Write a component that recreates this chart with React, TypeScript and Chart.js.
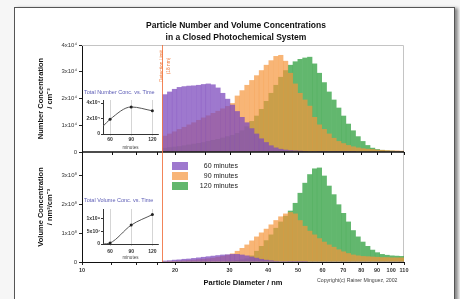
import React, { useEffect, useRef } from 'react';
import { Chart, registerables } from 'chart.js';

Chart.register(...registerables);

const FONT = '"Liberation Sans", Arial, Helvetica, sans-serif';

// Bin centre diameters (nm), log-spaced size channels
const diameters = [
  18.53, 19.21, 19.91, 20.64, 21.4, 22.18, 22.99, 23.84, 24.71, 25.61,
  26.55, 27.53, 28.53, 29.58, 30.66, 31.79, 32.95, 34.16, 35.41, 36.71,
  38.05, 39.45, 40.89, 42.39, 43.94, 45.55, 47.22, 48.95, 50.75, 52.61,
  54.53, 56.53, 58.6, 60.75, 62.98, 65.28, 67.67, 70.15, 72.72, 75.39,
  78.15, 81.01, 83.98, 87.06, 90.25, 93.55, 96.98, 100.53, 104.22, 108.04,
];

// Number concentration, units of 1x10^4 cm^-3
const number60 = [
  2.15, 2.25, 2.35, 2.42, 2.45, 2.47, 2.48, 2.5, 2.53, 2.55,
  2.52, 2.4, 2.2, 1.98, 1.76, 1.52, 1.3, 1.1, 0.88, 0.68,
  0.5, 0.36, 0.24, 0.16, 0.11, 0.08, 0.06, 0.05, 0.04, 0.03,
  0.02, 0.02, 0.01, 0.01, 0.01, 0.01, 0.01, 0.01, 0.01, 0.01,
  0, 0, 0, 0, 0, 0, 0, 0, 0, 0,
];
const number90 = [
  0.6, 0.68, 0.76, 0.85, 0.93, 1.02, 1.1, 1.19, 1.28, 1.36,
  1.45, 1.53, 1.62, 1.71, 1.82, 2.1, 2.3, 2.5, 2.68, 2.86,
  3.05, 3.25, 3.42, 3.58, 3.62, 3.4, 2.95, 2.55, 2.2, 1.95,
  1.72, 1.3, 1.02, 0.85, 0.68, 0.52, 0.4, 0.32, 0.25, 0.2,
  0.16, 0.13, 0.11, 0.1, 0.08, 0.07, 0.06, 0.05, 0.05, 0.04,
];
const number120 = [
  0.15, 0.17, 0.19, 0.21, 0.24, 0.27, 0.3, 0.33, 0.36, 0.4,
  0.44, 0.48, 0.53, 0.58, 0.63, 0.7, 0.8, 0.95, 1.15, 1.35,
  1.6, 1.9, 2.2, 2.5, 2.8, 3.05, 3.25, 3.38, 3.47, 3.52,
  3.55, 3.3, 2.95, 2.6, 2.25, 1.95, 1.65, 1.35, 1.05, 0.8,
  0.58, 0.4, 0.25, 0.15, 0.1, 0.07, 0.05, 0.04, 0.03, 0.03,
];

// Volume concentration, units of 1x10^8 nm^3 cm^-3
const volume60 = [
  0.04, 0.05, 0.07, 0.08, 0.1, 0.11, 0.13, 0.15, 0.17, 0.19,
  0.21, 0.23, 0.25, 0.26, 0.27, 0.27, 0.25, 0.22, 0.18, 0.14,
  0.1, 0.07, 0.05, 0.03, 0.02, 0.015, 0.01, 0.01, 0.01, 0.01,
  0, 0, 0, 0, 0, 0, 0, 0, 0, 0,
  0, 0, 0, 0, 0, 0, 0, 0, 0, 0,
];
const volume90 = [
  0.02, 0.03, 0.03, 0.04, 0.05, 0.06, 0.07, 0.09, 0.1, 0.12,
  0.14, 0.17, 0.2, 0.24, 0.29, 0.38, 0.48, 0.6, 0.74, 0.88,
  1.02, 1.15, 1.3, 1.45, 1.58, 1.68, 1.73, 1.68, 1.45, 1.25,
  1.08, 0.95, 0.82, 0.7, 0.6, 0.52, 0.43, 0.36, 0.3, 0.25,
  0.22, 0.2, 0.19, 0.18, 0.17, 0.16, 0.16, 0.15, 0.15, 0.15,
];
const volume120 = [
  0, 0, 0, 0.01, 0.01, 0.01, 0.01, 0.01, 0.01, 0.01,
  0.02, 0.02, 0.02, 0.03, 0.04, 0.06, 0.08, 0.12, 0.22, 0.38,
  0.55, 0.75, 0.95, 1.18, 1.4, 1.6, 1.78, 2.05, 2.4, 2.75,
  3.05, 3.25, 3.28, 3.0, 2.65, 2.35, 2.0, 1.7, 1.4, 1.1,
  0.88, 0.7, 0.55, 0.42, 0.33, 0.27, 0.24, 0.22, 0.21, 0.2,
];

const seriesLabels = ['60 minutes', '90 minutes', '120 minutes'];

const xMajorTicks = [10, 20, 30, 40, 50, 60, 70, 80, 90, 100, 110];
const xMinorTicks = [12.5, 15, 17.5, 25, 35, 45];
const numberTicks = [0, 1, 2, 3, 4];
const numberTickLabels = ['0', '1x10⁴', '2x10⁴', '3x10⁴', '4x10⁴'];
const volumeTicks = [0, 1, 2, 3];
const volumeTickLabels = ['0', '1x10⁸', '2x10⁸', '3x10⁸'];
const cutoffDiameter = 18.2;

// Insets: totals vs. time
const insetTimes = [50, 60, 90, 120];
const totalNumber = [1.0, 1.9, 3.5, 3.0]; // x10^4 cm^-3
const totalVolume = [0.0, 0.4, 7.4, 11.5]; // x10^7 nm^3 cm^-3
const insetPointRadius = [0, 1.5, 1.5, 1.5];
const insetTimeTicks = [60, 90, 120];
const insetNumberTicks = [0, 2, 4];
const insetNumberLabels = ['0', '2x10⁴', '4x10⁴'];
const insetVolumeTicks = [0, 5, 10];
const insetVolumeLabels = ['0', '5x10⁷', '1x10⁸'];

const PURPLE = 'rgba(125, 75, 190, 0.75)';
const ORANGE = 'rgba(245, 150, 60, 0.7)';
const GREEN = 'rgba(70, 170, 85, 0.85)';
const LEGEND_COLORS = ['#9e78ce', '#f8b577', '#62b76e'];

const toPoints = (vals: number[]) => vals.map((v, i) => ({ x: diameters[i], y: v }));

function barSet(label: string, vals: number[], color: string, axis: string) {
  return {
    type: 'bar' as const,
    label,
    data: toPoints(vals),
    backgroundColor: color,
    borderWidth: 0,
    inflateAmount: 0.2,
    grouped: false,
    barPercentage: 1,
    categoryPercentage: 1,
    xAxisID: 'x',
    yAxisID: axis,
  };
}

const framePlugin = {
  id: 'panelFrame',
  beforeDatasetsDraw(chart: any) {
    const { ctx, chartArea: a } = chart;
    ctx.save();
    ctx.strokeStyle = '#c4c4c4';
    ctx.lineWidth = 1;
    ctx.beginPath();
    ctx.moveTo(a.left, a.top + 0.5);
    ctx.lineTo(a.right - 0.5, a.top + 0.5);
    ctx.lineTo(a.right - 0.5, a.bottom);
    ctx.stroke();
    ctx.restore();
  },
  afterDatasetsDraw(chart: any) {
    const { ctx, chartArea: a, scales } = chart;
    const x = scales.x;
    const yMid = scales.yN.getPixelForValue(0);
    ctx.save();
    ctx.strokeStyle = '#111';
    ctx.lineWidth = 1.5;
    ctx.beginPath();
    ctx.moveTo(a.left, yMid);
    ctx.lineTo(a.right, yMid);
    ctx.stroke();
    ctx.lineWidth = 1;
    x.ticks.forEach((t: any) => {
      const px = Math.round(x.getPixelForValue(t.value)) + 0.5;
      ctx.beginPath();
      ctx.moveTo(px, yMid);
      ctx.lineTo(px, yMid + 3);
      ctx.stroke();
    });
    const cx = Math.round(x.getPixelForValue(cutoffDiameter)) + 0.5;
    ctx.strokeStyle = 'rgba(240, 110, 60, 0.85)';
    ctx.beginPath();
    ctx.moveTo(cx, a.top);
    ctx.lineTo(cx, a.bottom);
    ctx.stroke();
    ctx.restore();
  },
};

function insetConfig(values: number[], yMax: number, yTicks: number[], yLabels: string[], xLabelPad: number) {
  return {
    type: 'line' as const,
    data: {
      datasets: [
        {
          data: insetTimes.map((t, i) => ({ x: t, y: values[i] })),
          borderColor: '#555',
          borderWidth: 1,
          pointRadius: insetPointRadius,
          pointBackgroundColor: '#222',
          pointBorderWidth: 0,
          tension: 0.4,
          cubicInterpolationMode: 'monotone' as const,
          fill: false,
        },
      ],
    },
    options: {
      animation: false as const,
      responsive: false,
      maintainAspectRatio: false,
      layout: { padding: { top: 2, right: 4, left: 0, bottom: 0 } },
      plugins: { legend: { display: false }, tooltip: { enabled: false }, title: { display: false } },
      scales: {
        x: {
          type: 'linear' as const,
          min: 50,
          max: 128,
          afterFit: (s: any) => { s.height = 18; },
          afterBuildTicks: (s: any) => { s.ticks = insetTimeTicks.map((v) => ({ value: v })); },
          ticks: { font: { family: FONT, size: 5, weight: 'bold' as const }, color: '#333', padding: xLabelPad, maxRotation: 0, autoSkip: false },
          grid: { color: '#b8b8b8', lineWidth: 0.6, tickLength: 2 },
          border: { color: '#333', width: 1 },
          title: { display: true, text: 'minutes', font: { family: FONT, size: 4.5 }, color: '#444', padding: { top: 0, bottom: 2 } },
        },
        y: {
          type: 'linear' as const,
          min: 0,
          max: yMax,
          afterFit: (s: any) => { s.width = 21; },
          afterBuildTicks: (s: any) => { s.ticks = yTicks.map((v) => ({ value: v })); },
          ticks: { callback: (_v: any, i: number) => yLabels[i], font: { family: FONT, size: 5, weight: 'bold' as const }, color: '#333', padding: 1 },
          grid: { drawOnChartArea: false, tickLength: 2, color: '#333' },
          border: { color: '#333', width: 1 },
        },
      },
    },
  };
}

export default function App() {
  const mainRef = useRef<HTMLCanvasElement>(null);
  const insetNRef = useRef<HTMLCanvasElement>(null);
  const insetVRef = useRef<HTMLCanvasElement>(null);

  useEffect(() => {
    const charts: Chart[] = [];
    if (mainRef.current) {
      charts.push(
        new Chart(mainRef.current, {
          type: 'bar',
          data: {
            datasets: [
              barSet(seriesLabels[0], number60, PURPLE, 'yN'),
              barSet(seriesLabels[1], number90, ORANGE, 'yN'),
              barSet(seriesLabels[2], number120, GREEN, 'yN'),
              barSet(seriesLabels[0], volume60, PURPLE, 'yV'),
              barSet(seriesLabels[1], volume90, ORANGE, 'yV'),
              barSet(seriesLabels[2], volume120, GREEN, 'yV'),
            ] as any,
          },
          options: {
            animation: false,
            responsive: false,
            maintainAspectRatio: false,
            layout: { padding: { left: 30, top: 45, right: 56, bottom: 0 } },
            plugins: { legend: { display: false }, tooltip: { enabled: false }, title: { display: false } },
            scales: {
              yV: {
                type: 'linear',
                position: 'left',
                stack: 'panels',
                stackWeight: 110,
                min: 0,
                max: 3.83,
                afterFit: (s: any) => { s.width = 52; },
                afterBuildTicks: (s: any) => { s.ticks = volumeTicks.map((v) => ({ value: v })); },
                ticks: { callback: (_v: any, i: number) => volumeTickLabels[i], font: { family: FONT, size: 6 }, color: '#333', padding: 2 },
                grid: { drawOnChartArea: false, tickLength: 3, color: '#222' },
                border: { display: true, color: '#111', width: 1 },
                title: { display: true, text: ['Volume Concentration', '/ nm³/cm⁻³'], font: { family: FONT, size: 7.5, weight: 'bold' }, color: '#111', padding: { top: 6, bottom: 0 } },
              },
              yN: {
                type: 'linear',
                position: 'left',
                stack: 'panels',
                stackWeight: 107,
                min: 0,
                max: 4,
                afterFit: (s: any) => { s.width = 52; },
                afterBuildTicks: (s: any) => { s.ticks = numberTicks.map((v) => ({ value: v })); },
                ticks: { callback: (_v: any, i: number) => numberTickLabels[i], font: { family: FONT, size: 6 }, color: '#333', padding: 2 },
                grid: { drawOnChartArea: false, tickLength: 3, color: '#222' },
                border: { display: true, color: '#111', width: 1 },
                title: { display: true, text: ['Number Concentration', '/ cm⁻³'], font: { family: FONT, size: 7.5, weight: 'bold' }, color: '#111', padding: { top: 6, bottom: 0 } },
              },
              x: {
                type: 'logarithmic',
                position: 'bottom',
                min: 10,
                max: 110,
                offset: false,
                afterFit: (s: any) => { s.height = 37; },
                afterBuildTicks: (s: any) => {
                  s.ticks = [...xMajorTicks, ...xMinorTicks].sort((a, b) => a - b).map((v) => ({ value: v }));
                },
                ticks: {
                  autoSkip: false,
                  maxRotation: 0,
                  callback: (v: any) => (xMajorTicks.includes(Number(v)) ? String(v) : ''),
                  font: { family: FONT, size: 5.5, weight: 'bold' },
                  color: '#333',
                  padding: 2,
                },
                grid: { drawOnChartArea: false, offset: false, tickLength: 3, color: '#222' },
                border: { display: true, color: '#111', width: 1 },
                title: { display: true, text: 'Particle Diameter / nm', font: { family: FONT, size: 7.5, weight: 'bold' }, color: '#111', padding: { top: 0, bottom: 12 } },
              },
            } as any,
          },
          plugins: [framePlugin],
        })
      );
    }
    if (insetNRef.current) {
      charts.push(new Chart(insetNRef.current, insetConfig(totalNumber, 4.4, insetNumberTicks, insetNumberLabels, 1) as any));
    }
    if (insetVRef.current) {
      charts.push(new Chart(insetVRef.current, insetConfig(totalVolume, 13.7, insetVolumeTicks, insetVolumeLabels, 3) as any));
    }
    return () => charts.forEach((c) => c.destroy());
  }, []);

  const abs = (o: React.CSSProperties): React.CSSProperties => ({ position: 'absolute', ...o });
  const text: React.CSSProperties = { fontFamily: FONT, whiteSpace: 'nowrap' };

  return (
    <div style={abs({ left: 0, top: 0, width: 460, height: 299, overflow: 'hidden', background: '#f6f6f6' })}>
      <div style={abs({ left: 14, top: 7, width: 439, height: 310, background: '#fff', border: '1px solid #555', boxShadow: '3px 1px 3px #8a8a8a' })} />
      <canvas ref={mainRef} width={460} height={299} style={abs({ left: 0, top: 0, width: 460, height: 299 })} />
      <canvas ref={insetNRef} width={80} height={56} style={abs({ left: 82, top: 96, width: 80, height: 56 })} />
      <canvas ref={insetVRef} width={80} height={57} style={abs({ left: 82, top: 205, width: 80, height: 57 })} />

      <div style={abs({ ...text, left: 0, width: 472, top: 19, textAlign: 'center', fontSize: 8.5, fontWeight: 'bold', lineHeight: '12px', color: '#111' })}>
        Particle Number and Volume Concentrations
        <br />
        in a Closed Photochemical System
      </div>

      <div style={abs({ ...text, left: 84, top: 89, fontSize: 5.5, color: '#5b5bb5' })}>Total Number Conc. vs. Time</div>
      <div style={abs({ ...text, left: 84, top: 197, fontSize: 5.5, color: '#5b5bb5' })}>Total Volume Conc. vs. Time</div>

      <div
        style={abs({
          ...text,
          left: 144.5,
          top: 59,
          width: 40,
          height: 14,
          fontSize: 4.8,
          lineHeight: '7px',
          textAlign: 'center',
          color: '#f07a3c',
          transform: 'rotate(-90deg)',
          transformOrigin: 'center center',
        })}
      >
        Detection Limit
        <br />
        (18 nm)
      </div>

      {seriesLabels.map((lab, i) => (
        <React.Fragment key={lab}>
          <div style={abs({ left: 172, top: 162 + i * 10, width: 16, height: 8, background: LEGEND_COLORS[i] })} />
          <div style={abs({ ...text, left: 188, width: 50, top: 162 + i * 10, height: 8, lineHeight: '8px', fontSize: 7, textAlign: 'right', color: '#222' })}>{lab}</div>
        </React.Fragment>
      ))}

      <div style={abs({ ...text, left: 317, top: 277, fontSize: 5.2, color: '#444' })}>Copyright(c) Rainer Minguez, 2002</div>
    </div>
  );
}
